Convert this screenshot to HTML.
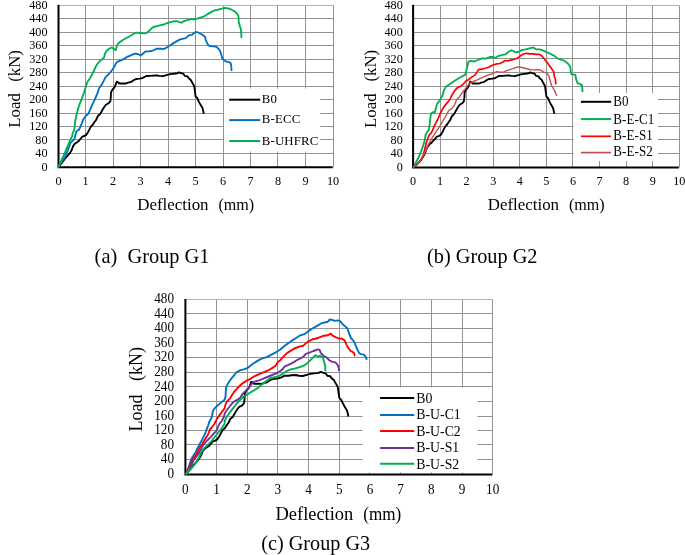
<!DOCTYPE html>
<html><head><meta charset="utf-8"><style>
html,body{margin:0;padding:0;background:#fff;}
svg{display:block;will-change:transform;filter:blur(0.3px);font-family:"Liberation Serif",serif;fill:#000;}
</style></head><body>
<svg width="685" height="555" viewBox="0 0 685 555">
<g stroke="#929292" stroke-width="1"><line x1="58.50" y1="153.50" x2="333.50" y2="153.50"/><line x1="58.50" y1="139.50" x2="333.50" y2="139.50"/><line x1="58.50" y1="126.50" x2="333.50" y2="126.50"/><line x1="58.50" y1="113.50" x2="333.50" y2="113.50"/><line x1="58.50" y1="99.50" x2="333.50" y2="99.50"/><line x1="58.50" y1="86.50" x2="333.50" y2="86.50"/><line x1="58.50" y1="72.50" x2="333.50" y2="72.50"/><line x1="58.50" y1="59.50" x2="333.50" y2="59.50"/><line x1="58.50" y1="45.50" x2="333.50" y2="45.50"/><line x1="58.50" y1="32.50" x2="333.50" y2="32.50"/><line x1="58.50" y1="18.50" x2="333.50" y2="18.50"/><line x1="58.50" y1="5.50" x2="333.50" y2="5.50" stroke="#b3b3b3"/><line x1="85.50" y1="5.50" x2="85.50" y2="167.30"/><line x1="113.50" y1="5.50" x2="113.50" y2="167.30"/><line x1="140.50" y1="5.50" x2="140.50" y2="167.30"/><line x1="168.50" y1="5.50" x2="168.50" y2="167.30"/><line x1="195.50" y1="5.50" x2="195.50" y2="167.30"/><line x1="223.50" y1="5.50" x2="223.50" y2="167.30"/><line x1="250.50" y1="5.50" x2="250.50" y2="167.30"/><line x1="277.50" y1="5.50" x2="277.50" y2="167.30"/><line x1="305.50" y1="5.50" x2="305.50" y2="167.30"/><line x1="333.50" y1="5.50" x2="333.50" y2="167.30"/></g><path d="M58.50 4.87V167.30H332.68" fill="none" stroke="#000" stroke-width="2"/><g font-size="12.2"><text transform="translate(47.5,166.38) scale(1,1.08)" text-anchor="end" dominant-baseline="central">0</text><text transform="translate(47.5,152.90) scale(1,1.08)" text-anchor="end" dominant-baseline="central">40</text><text transform="translate(47.5,139.41) scale(1,1.08)" text-anchor="end" dominant-baseline="central">80</text><text transform="translate(47.5,125.93) scale(1,1.08)" text-anchor="end" dominant-baseline="central">120</text><text transform="translate(47.5,112.44) scale(1,1.08)" text-anchor="end" dominant-baseline="central">160</text><text transform="translate(47.5,98.96) scale(1,1.08)" text-anchor="end" dominant-baseline="central">200</text><text transform="translate(47.5,85.48) scale(1,1.08)" text-anchor="end" dominant-baseline="central">240</text><text transform="translate(47.5,71.99) scale(1,1.08)" text-anchor="end" dominant-baseline="central">280</text><text transform="translate(47.5,58.51) scale(1,1.08)" text-anchor="end" dominant-baseline="central">320</text><text transform="translate(47.5,45.02) scale(1,1.08)" text-anchor="end" dominant-baseline="central">360</text><text transform="translate(47.5,31.54) scale(1,1.08)" text-anchor="end" dominant-baseline="central">400</text><text transform="translate(47.5,18.06) scale(1,1.08)" text-anchor="end" dominant-baseline="central">440</text><text transform="translate(47.5,4.57) scale(1,1.08)" text-anchor="end" dominant-baseline="central">480</text><text transform="translate(58.50,181.3) scale(1,1.08)" text-anchor="middle" dominant-baseline="central">0</text><text transform="translate(85.58,181.3) scale(1,1.08)" text-anchor="middle" dominant-baseline="central">1</text><text transform="translate(113.08,181.3) scale(1,1.08)" text-anchor="middle" dominant-baseline="central">2</text><text transform="translate(140.58,181.3) scale(1,1.08)" text-anchor="middle" dominant-baseline="central">3</text><text transform="translate(168.08,181.3) scale(1,1.08)" text-anchor="middle" dominant-baseline="central">4</text><text transform="translate(195.58,181.3) scale(1,1.08)" text-anchor="middle" dominant-baseline="central">5</text><text transform="translate(223.08,181.3) scale(1,1.08)" text-anchor="middle" dominant-baseline="central">6</text><text transform="translate(250.58,181.3) scale(1,1.08)" text-anchor="middle" dominant-baseline="central">7</text><text transform="translate(278.08,181.3) scale(1,1.08)" text-anchor="middle" dominant-baseline="central">8</text><text transform="translate(305.58,181.3) scale(1,1.08)" text-anchor="middle" dominant-baseline="central">9</text><text transform="translate(333.08,181.3) scale(1,1.08)" text-anchor="middle" dominant-baseline="central">10</text></g><g stroke="#929292" stroke-width="1"><line x1="413.10" y1="153.50" x2="679.50" y2="153.50"/><line x1="413.10" y1="139.50" x2="679.50" y2="139.50"/><line x1="413.10" y1="126.50" x2="679.50" y2="126.50"/><line x1="413.10" y1="113.50" x2="679.50" y2="113.50"/><line x1="413.10" y1="99.50" x2="679.50" y2="99.50"/><line x1="413.10" y1="86.50" x2="679.50" y2="86.50"/><line x1="413.10" y1="72.50" x2="679.50" y2="72.50"/><line x1="413.10" y1="58.50" x2="679.50" y2="58.50"/><line x1="413.10" y1="45.50" x2="679.50" y2="45.50"/><line x1="413.10" y1="32.50" x2="679.50" y2="32.50"/><line x1="413.10" y1="18.50" x2="679.50" y2="18.50"/><line x1="413.10" y1="5.50" x2="679.50" y2="5.50" stroke="#b3b3b3"/><line x1="440.50" y1="5.50" x2="440.50" y2="167.50"/><line x1="466.50" y1="5.50" x2="466.50" y2="167.50"/><line x1="493.50" y1="5.50" x2="493.50" y2="167.50"/><line x1="519.50" y1="5.50" x2="519.50" y2="167.50"/><line x1="546.50" y1="5.50" x2="546.50" y2="167.50"/><line x1="572.50" y1="5.50" x2="572.50" y2="167.50"/><line x1="599.50" y1="5.50" x2="599.50" y2="167.50"/><line x1="626.50" y1="5.50" x2="626.50" y2="167.50"/><line x1="652.50" y1="5.50" x2="652.50" y2="167.50"/><line x1="679.50" y1="5.50" x2="679.50" y2="167.50"/></g><path d="M413.10 4.77V167.50H678.88" fill="none" stroke="#000" stroke-width="2"/><g font-size="12.2"><text transform="translate(402.8,166.46) scale(1,1.08)" text-anchor="end" dominant-baseline="central">0</text><text transform="translate(402.8,152.96) scale(1,1.08)" text-anchor="end" dominant-baseline="central">40</text><text transform="translate(402.8,139.46) scale(1,1.08)" text-anchor="end" dominant-baseline="central">80</text><text transform="translate(402.8,125.96) scale(1,1.08)" text-anchor="end" dominant-baseline="central">120</text><text transform="translate(402.8,112.46) scale(1,1.08)" text-anchor="end" dominant-baseline="central">160</text><text transform="translate(402.8,98.97) scale(1,1.08)" text-anchor="end" dominant-baseline="central">200</text><text transform="translate(402.8,85.47) scale(1,1.08)" text-anchor="end" dominant-baseline="central">240</text><text transform="translate(402.8,71.97) scale(1,1.08)" text-anchor="end" dominant-baseline="central">280</text><text transform="translate(402.8,58.47) scale(1,1.08)" text-anchor="end" dominant-baseline="central">320</text><text transform="translate(402.8,44.97) scale(1,1.08)" text-anchor="end" dominant-baseline="central">360</text><text transform="translate(402.8,31.47) scale(1,1.08)" text-anchor="end" dominant-baseline="central">400</text><text transform="translate(402.8,17.97) scale(1,1.08)" text-anchor="end" dominant-baseline="central">440</text><text transform="translate(402.8,4.47) scale(1,1.08)" text-anchor="end" dominant-baseline="central">480</text><text transform="translate(413.10,181.3) scale(1,1.08)" text-anchor="middle" dominant-baseline="central">0</text><text transform="translate(440.06,181.3) scale(1,1.08)" text-anchor="middle" dominant-baseline="central">1</text><text transform="translate(466.64,181.3) scale(1,1.08)" text-anchor="middle" dominant-baseline="central">2</text><text transform="translate(493.22,181.3) scale(1,1.08)" text-anchor="middle" dominant-baseline="central">3</text><text transform="translate(519.80,181.3) scale(1,1.08)" text-anchor="middle" dominant-baseline="central">4</text><text transform="translate(546.38,181.3) scale(1,1.08)" text-anchor="middle" dominant-baseline="central">5</text><text transform="translate(572.96,181.3) scale(1,1.08)" text-anchor="middle" dominant-baseline="central">6</text><text transform="translate(599.54,181.3) scale(1,1.08)" text-anchor="middle" dominant-baseline="central">7</text><text transform="translate(626.12,181.3) scale(1,1.08)" text-anchor="middle" dominant-baseline="central">8</text><text transform="translate(652.70,181.3) scale(1,1.08)" text-anchor="middle" dominant-baseline="central">9</text><text transform="translate(679.28,181.3) scale(1,1.08)" text-anchor="middle" dominant-baseline="central">10</text></g><g stroke="#929292" stroke-width="1"><line x1="185.40" y1="459.50" x2="492.50" y2="459.50"/><line x1="185.40" y1="444.50" x2="492.50" y2="444.50"/><line x1="185.40" y1="430.50" x2="492.50" y2="430.50"/><line x1="185.40" y1="416.50" x2="492.50" y2="416.50"/><line x1="185.40" y1="401.50" x2="492.50" y2="401.50"/><line x1="185.40" y1="386.50" x2="492.50" y2="386.50"/><line x1="185.40" y1="372.50" x2="492.50" y2="372.50"/><line x1="185.40" y1="357.50" x2="492.50" y2="357.50"/><line x1="185.40" y1="342.50" x2="492.50" y2="342.50"/><line x1="185.40" y1="328.50" x2="492.50" y2="328.50"/><line x1="185.40" y1="313.50" x2="492.50" y2="313.50"/><line x1="185.40" y1="299.50" x2="492.50" y2="299.50" stroke="#b3b3b3"/><line x1="216.50" y1="299.50" x2="216.50" y2="474.40"/><line x1="247.50" y1="299.50" x2="247.50" y2="474.40"/><line x1="277.50" y1="299.50" x2="277.50" y2="474.40"/><line x1="308.50" y1="299.50" x2="308.50" y2="474.40"/><line x1="339.50" y1="299.50" x2="339.50" y2="474.40"/><line x1="369.50" y1="299.50" x2="369.50" y2="474.40"/><line x1="400.50" y1="299.50" x2="400.50" y2="474.40"/><line x1="431.50" y1="299.50" x2="431.50" y2="474.40"/><line x1="462.50" y1="299.50" x2="462.50" y2="474.40"/><line x1="492.50" y1="299.50" x2="492.50" y2="474.40"/></g><path d="M185.40 298.92V474.40H492.31" fill="none" stroke="#000" stroke-width="2"/><g font-size="13.2"><text transform="translate(174.0,473.38) scale(1,1.06)" text-anchor="end" dominant-baseline="central">0</text><text transform="translate(174.0,458.81) scale(1,1.06)" text-anchor="end" dominant-baseline="central">40</text><text transform="translate(174.0,444.24) scale(1,1.06)" text-anchor="end" dominant-baseline="central">80</text><text transform="translate(174.0,429.66) scale(1,1.06)" text-anchor="end" dominant-baseline="central">120</text><text transform="translate(174.0,415.09) scale(1,1.06)" text-anchor="end" dominant-baseline="central">160</text><text transform="translate(174.0,400.52) scale(1,1.06)" text-anchor="end" dominant-baseline="central">200</text><text transform="translate(174.0,385.95) scale(1,1.06)" text-anchor="end" dominant-baseline="central">240</text><text transform="translate(174.0,371.38) scale(1,1.06)" text-anchor="end" dominant-baseline="central">280</text><text transform="translate(174.0,356.80) scale(1,1.06)" text-anchor="end" dominant-baseline="central">320</text><text transform="translate(174.0,342.23) scale(1,1.06)" text-anchor="end" dominant-baseline="central">360</text><text transform="translate(174.0,327.66) scale(1,1.06)" text-anchor="end" dominant-baseline="central">400</text><text transform="translate(174.0,313.09) scale(1,1.06)" text-anchor="end" dominant-baseline="central">440</text><text transform="translate(174.0,298.52) scale(1,1.06)" text-anchor="end" dominant-baseline="central">480</text><text transform="translate(185.40,489.7) scale(1,1.06)" text-anchor="middle" dominant-baseline="central">0</text><text transform="translate(216.50,489.7) scale(1,1.06)" text-anchor="middle" dominant-baseline="central">1</text><text transform="translate(247.19,489.7) scale(1,1.06)" text-anchor="middle" dominant-baseline="central">2</text><text transform="translate(277.88,489.7) scale(1,1.06)" text-anchor="middle" dominant-baseline="central">3</text><text transform="translate(308.57,489.7) scale(1,1.06)" text-anchor="middle" dominant-baseline="central">4</text><text transform="translate(339.26,489.7) scale(1,1.06)" text-anchor="middle" dominant-baseline="central">5</text><text transform="translate(369.95,489.7) scale(1,1.06)" text-anchor="middle" dominant-baseline="central">6</text><text transform="translate(400.64,489.7) scale(1,1.06)" text-anchor="middle" dominant-baseline="central">7</text><text transform="translate(431.33,489.7) scale(1,1.06)" text-anchor="middle" dominant-baseline="central">8</text><text transform="translate(462.02,489.7) scale(1,1.06)" text-anchor="middle" dominant-baseline="central">9</text><text transform="translate(492.71,489.7) scale(1,1.06)" text-anchor="middle" dominant-baseline="central">10</text></g><text transform="translate(19.8,127.7) rotate(-90)" font-size="16.8">Load</text><text transform="translate(19.8,81.8) rotate(-90)" font-size="16.8">(kN)</text><text transform="translate(376.4,127.9) rotate(-90)" font-size="16.8">Load</text><text transform="translate(376.4,81.5) rotate(-90)" font-size="16.8">(kN)</text><text transform="translate(142.0,431.4) rotate(-90)" font-size="18">Load</text><text transform="translate(142.0,381.0) rotate(-90)" font-size="18">(kN)</text><g style="white-space:pre"><text x="137.2" y="209.5" font-size="17" textLength="71.4" lengthAdjust="spacingAndGlyphs">Deflection</text><text x="218.4" y="209.5" font-size="17" textLength="35.8" lengthAdjust="spacingAndGlyphs">(mm)</text><text x="487.7" y="209.5" font-size="17" textLength="71.4" lengthAdjust="spacingAndGlyphs">Deflection</text><text x="568.9" y="209.5" font-size="17" textLength="35.8" lengthAdjust="spacingAndGlyphs">(mm)</text><text x="275.5" y="519.9" font-size="18" textLength="77.8" lengthAdjust="spacingAndGlyphs">Deflection</text><text x="363.3" y="519.9" font-size="18" textLength="38" lengthAdjust="spacingAndGlyphs">(mm)</text><text x="94.6" y="263" font-size="20.4">(a)&#160; Group G1</text><text x="427.1" y="262.6" font-size="20.3">(b) Group G2</text><text x="261.3" y="550.3" font-size="20.2">(c) Group G3</text></g><path d="M58.5 166.8 L62.3 162.3 L65.0 158.7 L67.7 155.6 L70.0 152.9 L71.8 149.7 L73.1 146.1 L74.5 144.1 L76.7 142.5 L79.0 140.7 L80.8 138.5 L82.3 136.7 L84.4 136.0 L86.2 134.9 L88.0 132.2 L89.8 128.6 L91.1 126.3 L92.9 124.5 L94.7 121.8 L96.1 120.0 L97.9 116.0 L100.1 114.1 L101.9 111.0 L103.7 107.8 L105.9 104.7 L108.6 103.3 L110.4 101.1 L110.8 97.0 L111.0 92.5 L112.2 89.8 L114.0 88.0 L115.3 85.8 L116.7 81.7 L118.0 82.2 L119.4 83.5 L122.5 83.3 L126.1 83.5 L127.9 82.6 L130.6 82.2 L133.3 80.4 L136.0 79.0 L139.6 78.6 L142.3 78.1 L144.1 77.2 L146.3 76.0 L149.9 75.9 L153.0 75.6 L156.6 75.3 L159.3 75.9 L162.9 76.2 L166.5 75.1 L170.1 74.1 L172.8 73.8 L175.5 73.5 L177.0 73.4 L179.0 72.4 L180.9 73.1 L183.4 73.7 L184.9 75.9 L187.4 76.4 L188.9 78.4 L190.8 80.0 L192.3 82.8 L194.3 86.3 L194.8 90.7 L195.6 96.5 L197.3 98.2 L198.8 101.6 L200.7 105.1 L202.5 108.1 L203.7 113.0" fill="none" stroke="#000" stroke-width="1.85" stroke-linejoin="round" stroke-linecap="round"/><path d="M58.5 166.8 L61.4 162.3 L65.0 156.9 L67.7 150.6 L70.4 143.0 L72.7 140.7 L74.5 138.9 L75.4 135.3 L76.3 131.7 L77.2 130.6 L79.0 129.9 L80.3 126.8 L81.7 123.6 L83.0 120.0 L85.7 116.0 L88.4 113.7 L90.2 109.6 L92.0 105.1 L94.7 99.7 L97.4 93.4 L99.2 88.0 L101.9 84.4 L103.7 80.8 L105.4 77.3 L108.6 74.1 L110.8 71.8 L112.1 70.0 L114.3 66.8 L116.1 63.2 L117.5 61.6 L119.7 61.0 L122.4 59.6 L125.1 58.3 L126.9 56.9 L129.6 56.0 L132.3 54.7 L134.6 53.6 L137.7 54.0 L140.9 55.3 L143.1 53.5 L145.4 51.5 L148.5 51.3 L151.7 51.0 L154.4 49.9 L156.6 48.7 L159.8 48.7 L163.8 49.0 L166.5 47.7 L169.2 45.9 L172.8 43.6 L176.4 41.4 L179.6 39.6 L183.2 38.6 L185.0 38.4 L187.2 36.8 L189.3 35.1 L192.0 34.8 L194.2 33.0 L196.4 31.9 L199.1 33.0 L202.3 34.8 L205.0 36.8 L205.8 40.0 L207.2 43.2 L208.5 45.4 L210.0 46.1 L212.9 46.4 L215.8 46.6 L218.0 48.2 L220.1 50.8 L221.2 54.4 L222.3 58.3 L224.1 60.5 L226.6 61.7 L229.5 62.2 L230.9 63.7 L231.3 66.6 L231.5 70.2" fill="none" stroke="#0070C0" stroke-width="1.85" stroke-linejoin="round" stroke-linecap="round"/><path d="M58.5 166.8 L61.4 160.5 L65.0 152.4 L67.7 146.1 L70.4 139.4 L72.0 136.7 L72.7 133.1 L74.0 130.4 L74.7 127.2 L74.9 123.6 L75.4 120.0 L76.7 114.1 L78.1 108.7 L79.9 103.3 L82.1 97.9 L84.4 91.6 L86.2 85.3 L87.5 81.7 L89.8 78.6 L92.0 74.5 L94.0 70.5 L96.3 65.5 L99.0 61.9 L101.7 59.6 L104.0 57.8 L104.9 53.8 L106.2 51.5 L108.9 48.8 L111.6 47.5 L113.9 48.8 L115.7 50.2 L116.6 47.0 L117.5 44.3 L119.7 42.1 L123.3 39.8 L126.9 37.8 L130.5 35.8 L134.1 33.5 L136.4 32.6 L140.0 33.0 L142.7 33.3 L146.3 33.2 L149.0 31.1 L151.3 28.6 L153.5 27.0 L157.1 26.1 L160.7 25.2 L163.9 24.5 L167.0 23.2 L170.6 22.1 L174.2 21.2 L176.9 21.2 L179.6 22.1 L181.6 22.7 L183.2 21.6 L185.9 20.3 L188.2 19.8 L191.5 19.2 L195.3 19.2 L198.0 18.4 L201.2 17.3 L204.5 16.2 L207.7 14.1 L211.0 12.1 L214.2 10.5 L217.4 9.9 L220.7 8.9 L225.0 7.8 L228.2 8.4 L231.5 9.7 L234.7 11.4 L236.9 13.5 L238.5 16.2 L238.7 21.6 L239.6 25.4 L240.7 28.6 L241.2 32.4 L241.4 37.3" fill="none" stroke="#00B050" stroke-width="1.85" stroke-linejoin="round" stroke-linecap="round"/><path d="M413.7 167.1 L417.9 163.5 L421.4 159.6 L424.4 154.6 L426.3 149.7 L427.9 146.4 L429.9 144.0 L431.8 142.5 L433.4 140.5 L435.4 138.5 L436.9 136.7 L438.9 136.0 L440.7 134.9 L442.4 132.2 L444.1 128.6 L445.4 126.3 L447.1 124.5 L448.9 121.8 L450.2 120.0 L452.0 116.0 L454.1 114.1 L455.8 111.0 L457.6 107.8 L459.7 104.7 L462.3 103.3 L464.0 101.1 L464.4 97.0 L464.6 92.5 L465.8 89.8 L467.5 88.0 L468.8 85.8 L470.1 81.7 L471.4 82.2 L472.7 83.5 L475.7 83.3 L479.2 83.5 L481.0 82.6 L483.6 82.2 L486.2 80.4 L488.8 79.0 L492.3 78.6 L494.9 78.1 L496.6 77.2 L498.7 76.0 L502.2 75.9 L505.2 75.6 L508.7 75.3 L511.3 75.9 L514.8 76.2 L518.3 75.1 L521.8 74.1 L524.4 73.8 L527.0 73.5 L528.4 73.4 L530.4 72.4 L532.2 73.1 L534.6 73.7 L536.1 75.9 L538.5 76.4 L539.9 78.4 L541.8 80.0 L543.2 82.8 L545.1 86.3 L545.6 90.7 L546.4 96.5 L548.0 98.2 L549.5 101.6 L551.3 105.1 L553.1 108.1 L554.2 113.0" fill="none" stroke="#000" stroke-width="1.85" stroke-linejoin="round" stroke-linecap="round"/><path d="M413.8 167.0 L416.4 161.5 L418.9 156.6 L421.4 150.6 L423.4 144.7 L424.9 139.8 L425.6 134.8 L426.8 132.8 L428.8 129.9 L429.6 124.9 L430.1 120.0 L430.9 114.0 L432.4 112.5 L434.9 112.0 L435.8 108.6 L436.8 104.6 L438.8 101.6 L441.3 97.7 L442.8 94.7 L443.8 90.7 L445.7 86.8 L449.7 84.3 L454.7 80.8 L459.6 77.7 L465.0 74.9 L465.5 74.0 L467.0 67.7 L468.5 61.7 L470.9 60.9 L474.4 61.5 L477.9 60.0 L481.8 58.3 L485.8 58.6 L489.8 57.0 L492.7 56.8 L495.2 58.0 L498.7 55.8 L502.6 54.8 L505.6 54.3 L508.6 51.8 L511.5 50.3 L513.5 51.0 L514.5 51.8 L516.4 52.3 L519.4 51.3 L522.4 49.9 L525.8 49.4 L529.3 48.4 L533.3 47.4 L536.2 49.4 L539.7 49.4 L542.9 50.4 L546.5 52.2 L550.1 53.7 L554.4 55.9 L557.3 58.4 L560.9 59.5 L564.5 60.9 L568.1 63.8 L570.3 66.7 L570.7 71.7 L571.7 74.3 L575.3 74.6 L576.0 78.9 L577.5 83.2 L579.6 83.9 L582.1 85.4 L582.5 91.2" fill="none" stroke="#00B050" stroke-width="1.85" stroke-linejoin="round" stroke-linecap="round"/><path d="M413.8 167.0 L417.9 163.5 L420.9 160.0 L423.4 154.6 L424.9 148.7 L426.3 142.7 L427.8 138.8 L429.3 134.8 L431.3 132.8 L432.8 129.9 L434.3 125.9 L436.2 122.4 L438.0 119.0 L440.3 113.5 L442.8 108.6 L445.7 104.6 L449.7 99.7 L452.2 94.7 L454.7 90.7 L457.6 87.6 L460.6 86.3 L463.6 83.8 L466.0 81.0 L468.0 80.0 L470.9 77.6 L474.9 75.1 L476.9 72.1 L478.4 69.7 L481.8 69.2 L485.3 68.2 L488.8 67.2 L492.2 65.2 L495.7 64.2 L499.7 63.5 L502.6 62.2 L505.1 60.5 L507.6 60.9 L510.5 60.2 L513.0 59.6 L515.9 58.8 L518.4 57.6 L520.4 55.8 L522.9 54.3 L526.3 53.3 L529.8 53.8 L532.8 53.8 L536.2 54.3 L539.2 54.3 L541.7 55.8 L544.2 58.8 L546.6 61.7 L549.1 65.2 L551.6 68.7 L553.6 71.6 L554.4 76.7 L555.3 78.6 L555.8 83.7" fill="none" stroke="#FF0000" stroke-width="1.7" stroke-linejoin="round" stroke-linecap="round"/><path d="M413.8 167.0 L417.4 163.5 L420.9 159.6 L424.4 153.6 L425.9 150.4 L427.9 145.6 L429.9 141.7 L431.8 138.5 L433.8 135.3 L435.8 132.1 L437.4 129.8 L439.0 127.4 L440.6 125.0 L441.9 122.6 L443.7 119.5 L446.0 115.8 L448.7 110.5 L451.7 108.6 L454.2 105.6 L456.6 99.7 L459.6 96.7 L461.6 93.7 L463.6 90.7 L465.5 88.8 L467.5 85.8 L470.4 83.0 L474.4 81.0 L477.4 79.8 L480.8 78.1 L484.3 76.6 L487.8 75.1 L491.2 74.1 L493.7 73.1 L496.7 71.6 L500.1 72.1 L503.6 72.1 L506.6 70.6 L510.0 69.6 L513.0 68.7 L515.9 67.5 L518.9 66.9 L521.9 67.5 L525.8 68.5 L529.8 69.5 L533.8 69.9 L537.7 69.7 L540.7 70.1 L543.7 72.1 L547.1 73.1 L549.1 76.6 L550.4 81.5 L551.8 86.0 L554.4 90.4 L556.6 95.5" fill="none" stroke="#C0504D" stroke-width="1.4" stroke-linejoin="round" stroke-linecap="round"/><path d="M186.3 473.9 L190.5 469.0 L193.5 465.1 L196.5 461.8 L199.1 458.9 L201.1 455.4 L202.6 451.5 L204.1 449.4 L206.6 447.6 L209.2 445.7 L211.2 443.3 L212.8 441.4 L215.2 440.6 L217.2 439.4 L219.2 436.5 L221.2 432.6 L222.7 430.1 L224.7 428.2 L226.7 425.3 L228.2 423.3 L230.2 419.0 L232.7 416.9 L234.7 413.6 L236.7 410.1 L239.2 406.8 L242.2 405.3 L244.2 402.9 L244.6 398.5 L244.9 393.6 L246.2 390.7 L248.2 388.7 L249.7 386.3 L251.2 381.9 L252.7 382.5 L254.2 383.9 L257.7 383.6 L261.7 383.9 L263.7 382.9 L266.7 382.5 L269.8 380.5 L272.8 379.0 L276.8 378.6 L279.8 378.0 L281.8 377.1 L284.3 375.8 L288.3 375.7 L291.7 375.3 L295.8 375.0 L298.8 375.7 L302.8 376.0 L306.8 374.8 L310.8 373.7 L313.8 373.4 L316.9 373.1 L318.5 372.9 L320.8 371.9 L322.9 372.6 L325.7 373.3 L327.3 375.7 L330.1 376.2 L331.8 378.4 L333.9 380.1 L335.6 383.1 L337.8 386.9 L338.4 391.6 L339.3 397.9 L341.2 399.8 L342.9 403.4 L345.0 407.2 L347.0 410.4 L348.3 415.7" fill="none" stroke="#000" stroke-width="1.9" stroke-linejoin="round" stroke-linecap="round"/><path d="M186.3 473.8 L187.2 471.0 L188.3 468.2 L189.7 464.0 L191.1 459.6 L193.5 455.5 L195.8 452.0 L197.5 448.2 L199.6 444.2 L202.1 439.6 L204.1 435.6 L205.9 431.6 L207.1 428.0 L208.1 425.9 L209.2 421.9 L210.9 419.0 L212.1 416.1 L212.5 413.5 L212.7 411.5 L214.4 408.6 L217.3 405.8 L220.7 402.9 L224.2 400.0 L224.8 399.3 L225.6 396.0 L225.8 391.2 L226.2 386.9 L227.7 384.1 L229.1 381.7 L231.5 378.3 L234.4 375.0 L236.7 372.0 L240.5 370.1 L243.8 369.3 L247.6 368.0 L251.0 365.3 L254.8 362.6 L258.6 360.1 L262.4 358.4 L266.7 357.2 L270.1 355.3 L273.9 353.4 L277.2 351.5 L280.0 349.8 L283.8 346.6 L287.6 343.8 L291.5 340.9 L295.7 338.2 L299.6 335.7 L304.3 334.2 L308.1 331.4 L312.4 328.5 L316.7 326.1 L320.6 323.7 L324.8 322.3 L327.4 322.1 L329.8 319.5 L332.2 319.9 L334.5 320.9 L338.4 320.4 L340.3 321.4 L342.7 324.2 L345.5 326.6 L347.4 328.5 L348.9 332.8 L350.8 337.6 L353.2 340.5 L354.4 342.2 L355.8 345.8 L357.3 349.4 L359.1 353.0 L360.9 354.1 L363.4 354.4 L365.2 355.9 L366.6 359.1" fill="none" stroke="#0070C0" stroke-width="1.9" stroke-linejoin="round" stroke-linecap="round"/><path d="M186.3 473.8 L188.8 468.2 L190.5 464.6 L192.6 459.6 L195.3 455.7 L197.8 452.0 L199.6 447.7 L202.1 444.2 L204.6 440.1 L207.1 436.1 L208.9 432.6 L209.9 429.5 L211.7 427.5 L213.2 425.5 L214.4 424.0 L217.2 418.4 L219.6 415.1 L222.3 411.3 L224.6 408.4 L225.5 404.6 L227.2 401.2 L230.1 398.4 L232.0 395.0 L233.9 392.2 L236.3 389.3 L239.1 386.5 L240.0 385.5 L242.9 383.1 L246.7 380.7 L250.5 378.8 L254.3 376.3 L259.1 374.1 L263.9 372.2 L268.6 370.2 L272.4 367.9 L275.3 366.0 L278.2 361.5 L280.0 360.5 L282.9 357.1 L286.7 353.3 L290.5 350.9 L294.3 348.5 L299.1 346.6 L303.4 345.7 L305.8 343.3 L308.6 341.4 L312.4 339.2 L316.3 338.5 L320.1 337.1 L323.9 335.7 L327.9 335.2 L330.7 333.6 L332.6 335.7 L335.5 337.1 L338.8 338.5 L342.2 338.7 L344.6 340.4 L346.4 344.3 L348.2 347.9 L350.4 350.8 L352.6 351.9 L354.0 353.0 L354.7 355.5" fill="none" stroke="#FF0000" stroke-width="1.9" stroke-linejoin="round" stroke-linecap="round"/><path d="M186.3 473.8 L189.6 468.2 L191.7 464.6 L193.8 459.6 L197.2 455.7 L200.3 450.7 L202.1 446.7 L204.6 443.2 L208.1 439.6 L211.2 436.6 L213.7 433.6 L216.2 431.1 L217.2 429.0 L218.2 426.5 L219.2 424.0 L221.9 420.8 L223.9 417.0 L224.8 413.2 L227.2 409.8 L229.6 406.5 L232.4 403.1 L235.3 400.8 L238.2 399.3 L240.2 397.6 L242.9 393.6 L245.7 390.8 L248.6 387.9 L251.5 384.1 L254.3 381.7 L259.1 380.3 L263.9 378.4 L268.6 376.5 L273.4 374.5 L278.2 372.6 L282.0 369.8 L284.8 366.4 L287.7 365.2 L289.5 364.3 L293.4 362.4 L297.2 360.0 L301.0 358.2 L303.9 356.2 L305.8 353.8 L309.5 352.7 L313.4 351.0 L316.2 350.0 L317.7 349.3 L319.6 349.8 L320.8 353.0 L323.4 355.7 L326.7 357.6 L329.6 360.5 L332.4 361.9 L335.3 362.4 L337.7 364.8 L338.6 367.2 L339.1 370.5" fill="none" stroke="#7030A0" stroke-width="1.9" stroke-linejoin="round" stroke-linecap="round"/><path d="M186.3 473.8 L189.0 470.5 L191.6 468.2 L194.6 464.6 L197.3 460.5 L199.4 456.5 L201.1 452.8 L203.0 449.5 L205.5 447.0 L208.0 444.6 L210.8 441.8 L213.5 438.5 L216.0 435.5 L218.2 432.5 L220.2 430.2 L222.3 427.3 L223.5 425.5 L224.5 424.0 L224.8 420.8 L227.2 416.0 L230.1 412.2 L232.9 408.4 L236.3 404.1 L239.1 400.8 L240.5 399.5 L243.8 396.5 L247.6 394.1 L252.4 391.2 L257.2 388.4 L261.9 384.6 L266.5 381.0 L270.1 378.2 L274.6 377.2 L278.2 376.4 L282.0 374.1 L285.8 371.7 L290.5 369.5 L295.3 368.4 L300.0 367.0 L303.8 365.7 L307.6 362.9 L311.5 359.1 L315.3 355.2 L317.7 356.5 L320.0 355.9 L322.9 357.2 L324.3 362.4 L325.3 366.7 L325.3 370.5" fill="none" stroke="#00B050" stroke-width="1.9" stroke-linejoin="round" stroke-linecap="round"/><rect x="224" y="88.5" width="96" height="63.0" fill="#fff"/><line x1="229.2" y1="99.7" x2="260.2" y2="99.7" stroke="#000" stroke-width="2"/><text transform="translate(261.7,99.2) scale(1,1)" dominant-baseline="central" font-size="12.8" letter-spacing="0.2">B0</text><line x1="229.2" y1="120.1" x2="260.2" y2="120.1" stroke="#0070C0" stroke-width="2"/><text transform="translate(261.7,119.45) scale(1,1)" dominant-baseline="central" font-size="12.8" letter-spacing="0.2">B-ECC</text><line x1="229.2" y1="141" x2="260.2" y2="141" stroke="#00B050" stroke-width="2"/><text transform="translate(261.7,140.55) scale(1,1)" dominant-baseline="central" font-size="12.8" letter-spacing="0.2">B-UHFRC</text><rect x="573.5" y="93" width="84.5" height="68" fill="#fff"/><line x1="580.9" y1="101.8" x2="611.1" y2="101.8" stroke="#000" stroke-width="2"/><text transform="translate(613.3,101.5) scale(1,1.06)" dominant-baseline="central" font-size="13" letter-spacing="0.1">B0</text><line x1="580.9" y1="119.1" x2="611.1" y2="119.1" stroke="#00B050" stroke-width="2"/><text transform="translate(613.3,119.0) scale(1,1.06)" dominant-baseline="central" font-size="13" letter-spacing="0.1">B-E-C1</text><line x1="580.9" y1="136.3" x2="611.1" y2="136.3" stroke="#FF0000" stroke-width="1.7"/><text transform="translate(613.3,135.7) scale(1,1.06)" dominant-baseline="central" font-size="13" letter-spacing="0.1">B-E-S1</text><line x1="580.9" y1="152.6" x2="611.1" y2="152.6" stroke="#C0504D" stroke-width="1.7"/><text transform="translate(613.3,151.7) scale(1,1.06)" dominant-baseline="central" font-size="13" letter-spacing="0.1">B-E-S2</text><rect x="362.5" y="387.5" width="115.0" height="85.0" fill="#fff"/><line x1="380.1" y1="398.1" x2="414.2" y2="398.1" stroke="#000" stroke-width="2"/><text transform="translate(416.3,398) scale(1,1)" dominant-baseline="central" font-size="13.8" letter-spacing="0">B0</text><line x1="380.1" y1="414.9" x2="414.2" y2="414.9" stroke="#0070C0" stroke-width="2"/><text transform="translate(416.3,414.5) scale(1,1)" dominant-baseline="central" font-size="13.8" letter-spacing="0">B-U-C1</text><line x1="380.1" y1="430.9" x2="414.2" y2="430.9" stroke="#FF0000" stroke-width="2"/><text transform="translate(416.3,431.5) scale(1,1)" dominant-baseline="central" font-size="13.8" letter-spacing="0">B-U-C2</text><line x1="380.1" y1="447.9" x2="414.2" y2="447.9" stroke="#7030A0" stroke-width="2"/><text transform="translate(416.3,447.5) scale(1,1)" dominant-baseline="central" font-size="13.8" letter-spacing="0">B-U-S1</text><line x1="380.1" y1="463.7" x2="414.2" y2="463.7" stroke="#00B050" stroke-width="2"/><text transform="translate(416.3,464.2) scale(1,1)" dominant-baseline="central" font-size="13.8" letter-spacing="0">B-U-S2</text>
</svg></body></html>
